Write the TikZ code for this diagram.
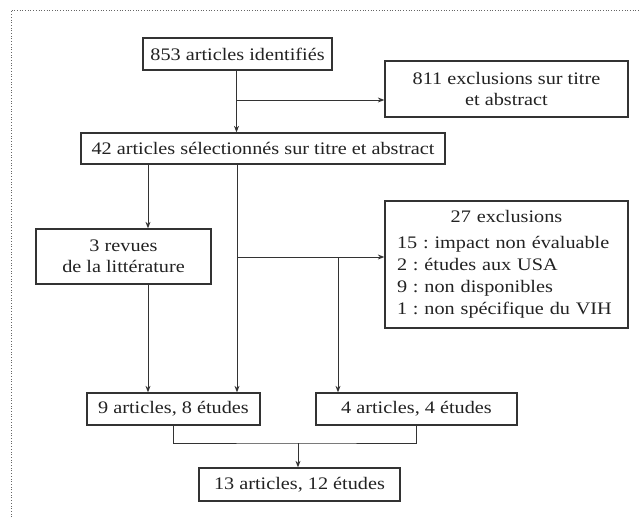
\documentclass[tikz,border=0pt]{standalone}
\usepackage{fontspec}
\setmainfont{Liberation Serif}[FakeStretch=1.15]
\usetikzlibrary{arrows.meta}
\definecolor{ink}{HTML}{222222}
\definecolor{linec}{HTML}{333333}
\tikzset{
  box/.style={draw=linec, line width=1.3pt, text=ink, inner sep=0pt, align=center,
    font=\fontsize{17.6}{21}\selectfont},
  conn/.style={draw=linec, line width=1pt},
  arr/.style={conn, -{Stealth[length=6.5pt,width=5pt]}},
  frame/.style={draw=black!60, line width=0.7pt, dotted}
}
\frenchspacing
\begin{document}
\begin{tikzpicture}[x=1pt,y=-1pt]
\useasboundingbox (0,0) rectangle (640,517);
\draw[frame] (11,517) -- (11,10) -- (640,10);

\node[box, minimum width=189pt, minimum height=32pt] (b1) at (237.5,54) {853 articles identifiés};
\node[box, minimum width=243pt, minimum height=56pt] (b2) at (506.5,89) {811 exclusions sur titre\\et abstract};
\node[box, minimum width=364pt, minimum height=31pt] (b3) at (263,148.5) {42 articles sélectionnés sur titre et abstract};
\node[box, minimum width=175pt, minimum height=55pt] (b4) at (123.5,256.5) {3 revues\\de la littérature};
\node[box, minimum width=243pt, minimum height=127pt, text width=219pt, align=left,
      font=\fontsize{17.6}{22}\selectfont] (b5) at (506.5,264.5)
  {\makebox[\linewidth][c]{27 exclusions}\\[4pt]
   15 : impact non évaluable\\
   2 : études aux USA\\
   9 : non disponibles\\
   1 : non spécifique du VIH};
\node[box, minimum width=173pt, minimum height=32pt] (b6) at (173.5,409) {9 articles, 8 études};
\node[box, minimum width=201pt, minimum height=32pt] (b7) at (416.5,409) {4 articles, 4 études};
\node[box, minimum width=201pt, minimum height=33pt] (b8) at (299.5,484.5) {13 articles, 12 études};

\coordinate (xA) at (148,0);
\coordinate (xB) at (237,0);
\coordinate (j1) at (236.5,100);
\coordinate (j2) at (237,257);
\coordinate (j3) at (338,257);
\coordinate (m) at (298,443);

\draw[arr] (b1.south -| j1) -- (b3.north -| j1);
\draw[arr] (j1) -- (j1 -| b2.west);
\draw[arr] (b3.south -| xA) -- (b4.north -| xA);
\draw[arr] (b4.south -| xA) -- (b6.north -| xA);
\draw[arr] (b3.south -| xB) -- (b6.north -| xB);
\draw[arr] (j2) -- (j2 -| b5.west);
\draw[arr] (j3) -- (j3 |- b7.north);
\draw[conn] (b6.south) |- (m) -| (b7.south);
\draw[arr] (m) -- (m |- b8.north);
\end{tikzpicture}
\end{document}
